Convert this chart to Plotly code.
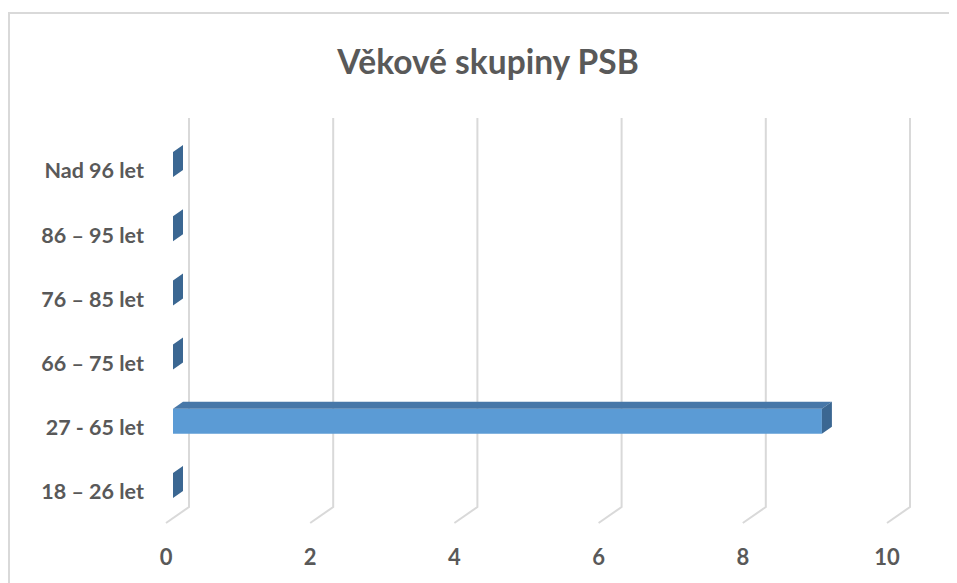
import plotly.graph_objects as go

categories = ["18 – 26 let", "27 - 65 let", "66 – 75 let", "76 – 85 let", "86 – 95 let", "Nad 96 let"]
values = [0, 9, 0, 0, 0, 0]
x_ticks = [0, 2, 4, 6, 8, 10]

# figure geometry (figure pixels; page body adds an 8px offset)
W, H = 957, 583
ML, MR, MT, MB = 150, 27, 110, 53
OX = 158.0    # pixel of x=0 on the front floor edge
OY = 477.5    # pixel of first category centre
PX_X = 72.1   # pixels per x unit
PX_Y = 64.2   # pixels per category

# faked 3D look (axis units)
bar_base = 7 / PX_X
depth_dx = 10 / PX_X
depth_dy = 7 / PX_Y
bar_h = 25 / PX_Y
wall_dx = 23 / PX_X
wall_top = (OY - 110) / PX_Y
wall_bottom = (OY - 499) / PX_Y
floor_front = (OY - 515) / PX_Y

idx = list(range(len(categories)))

fig = go.Figure()

# front faces
fig.add_trace(go.Bar(x=values, y=idx, base=bar_base, orientation="h", width=bar_h,
                     marker=dict(color="#5B9BD5", line=dict(width=0)),
                     hoverinfo="skip", showlegend=False))

# top faces
tx, ty = [], []
for i, v in zip(idx, values):
    if v > 0:
        y1 = i + bar_h / 2
        x0 = bar_base
        x1 = bar_base + v
        tx += [x0, x1, x1 + depth_dx, x0 + depth_dx, x0, None]
        ty += [y1, y1, y1 + depth_dy, y1 + depth_dy, y1, None]
fig.add_trace(go.Scatter(x=tx, y=ty, mode="lines", fill="toself",
                         fillcolor="#4777A8", line=dict(width=0, color="#4777A8"),
                         hoverinfo="skip", showlegend=False))

# side faces
sx, sy = [], []
for i, v in zip(idx, values):
    y0 = i - bar_h / 2
    y1 = i + bar_h / 2
    x1 = bar_base + v
    sx += [x1, x1 + depth_dx, x1 + depth_dx, x1, x1, None]
    sy += [y0, y0 + depth_dy, y1 + depth_dy, y1, y0, None]
fig.add_trace(go.Scatter(x=sx, y=sy, mode="lines", fill="toself",
                         fillcolor="#3B6792", line=dict(width=0, color="#3B6792"),
                         hoverinfo="skip", showlegend=False))

# grid lines: back wall + floor diagonals, drawn below the bars
shapes = []
for t in x_ticks:
    path = (f"M {t + wall_dx},{wall_top} L {t + wall_dx},{wall_bottom} "
            f"L {t},{floor_front}")
    shapes.append(dict(type="path", path=path, xref="x", yref="y",
                       line=dict(color="#D9D9D9", width=2), layer="below"))

pw = W - ML - MR
ph = H - MT - MB
x_lo = (ML - OX) / PX_X
x_hi = (W - MR - OX) / PX_X
y_hi = (OY - MT) / PX_Y
y_lo = (OY - (H - MB)) / PX_Y

# chart border
shapes.append(dict(type="rect", xref="paper", yref="paper",
                   x0=(1 - ML) / pw, x1=(W + 5 - ML) / pw,
                   y0=(H - MB - (H + 5)) / ph, y1=(H - MB - 5) / ph,
                   line=dict(color="#D9D9D9", width=2), fillcolor="rgba(0,0,0,0)", layer="below"))

font_family = "Lato, 'Open Sans', sans-serif"
fig.update_layout(
    width=W, height=H,
    margin=dict(l=ML, r=MR, t=MT, b=MB),
    paper_bgcolor="white", plot_bgcolor="white",
    title=dict(text="<b>Věkové skupiny PSB</b>", x=480 / W, xref="container", xanchor="center",
               y=1 - 54 / H, yref="container", yanchor="middle",
               font=dict(family=font_family, size=33.5, color="#595959")),
    xaxis=dict(range=[x_lo, x_hi], tickvals=x_ticks, ticktext=[f"<b>{t}</b>" for t in x_ticks],
               showgrid=False, zeroline=False, showline=False, ticks="",
               ticklabelstandoff=4,
               tickfont=dict(family=font_family, size=22, color="#595959")),
    yaxis=dict(range=[y_lo, y_hi], tickvals=[i - 0.1 for i in idx],
               ticktext=[f"<b>{c}</b>" for c in categories],
               showgrid=False, zeroline=False, showline=False, ticks="",
               ticklabelstandoff=13,
               tickfont=dict(family=font_family, size=21.5, color="#595959")),
    shapes=shapes,
)

fig.write_html("out.html")
